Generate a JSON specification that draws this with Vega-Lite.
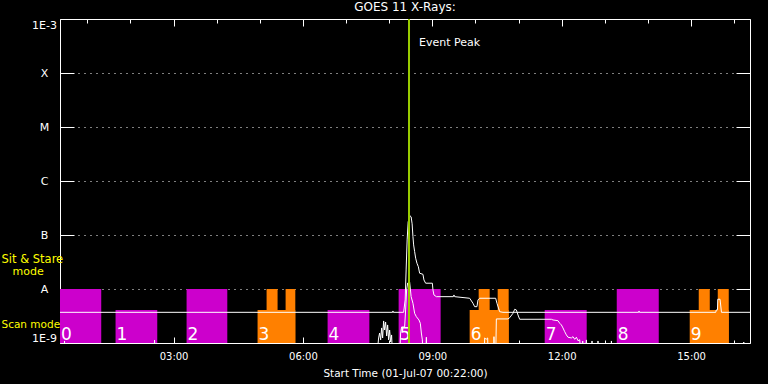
{
  "$schema": "https://vega.github.io/schema/vega-lite/v6.json",
  "width": 690,
  "height": 324,
  "autosize": "none",
  "padding": {"left": 60, "top": 19, "right": 18, "bottom": 41},
  "background": "black",
  "title": {"text": "GOES 11 X-Rays:", "color": "white", "font": "DejaVu Sans", "fontSize": 12, "fontWeight": "normal", "anchor": "middle", "offset": 4},
  "config": {
    "view": {"stroke": null},
    "axis": {"domainColor": "white", "tickColor": "white", "labelColor": "white", "titleColor": "white", "labelFont": "DejaVu Sans", "titleFont": "DejaVu Sans", "titleFontWeight": "normal", "zindex": 1, "domainWidth": 1, "tickWidth": 1, "grid": false}
  },
  "datasets": {
    "blocks": [
      {"n": "0", "t": 0.3667, "t2": 1.323, "v": 1e-8, "kind": "raster"},
      {"n": "1", "t": 1.655, "t2": 2.622, "v": 4.1e-9, "kind": "raster"},
      {"n": "2", "t": 3.302, "t2": 4.246, "v": 1e-8, "kind": "raster"},
      {"n": "3", "t": 4.948, "t2": 5.823, "v": 4.1e-9, "kind": "mixed"},
      {"n": null, "t": 5.157, "t2": 5.412, "v": 1e-8, "kind": "mixed"},
      {"n": null, "t": 5.598, "t2": 5.823, "v": 1e-8, "kind": "mixed"},
      {"n": "4", "t": 6.572, "t2": 7.540, "v": 4.1e-9, "kind": "raster"},
      {"n": "5", "t": 8.219, "t2": 9.193, "v": 1e-8, "kind": "raster"},
      {"n": "6", "t": 9.866, "t2": 10.771, "v": 4.1e-9, "kind": "mixed"},
      {"n": null, "t": 10.075, "t2": 10.330, "v": 1e-8, "kind": "mixed"},
      {"n": null, "t": 10.516, "t2": 10.771, "v": 1e-8, "kind": "mixed"},
      {"n": "7", "t": 11.606, "t2": 12.580, "v": 4.1e-9, "kind": "raster"},
      {"n": "8", "t": 13.277, "t2": 14.251, "v": 1e-8, "kind": "raster"},
      {"n": "9", "t": 14.969, "t2": 15.874, "v": 4.1e-9, "kind": "mixed"},
      {"n": null, "t": 15.178, "t2": 15.434, "v": 1e-8, "kind": "mixed"},
      {"n": null, "t": 15.619, "t2": 15.874, "v": 1e-8, "kind": "mixed"}
    ],
    "long": [
      {"t": 0.3667, "v": 3.7e-9}, {"t": 8.080, "v": 3.7e-9}, {"t": 8.087, "v": 3.92e-9}, {"t": 8.095, "v": 3.7e-9},
      {"t": 8.335, "v": 3.7e-9}, {"t": 8.370, "v": 6.27e-9}, {"t": 8.393, "v": 2.25e-8}, {"t": 8.416, "v": 8.11e-8},
      {"t": 8.440, "v": 1.75e-7}, {"t": 8.486, "v": 2.26e-7}, {"t": 8.509, "v": 2.17e-7}, {"t": 8.532, "v": 1.61e-7},
      {"t": 8.551, "v": 9.33e-8}, {"t": 8.567, "v": 6.55e-8}, {"t": 8.590, "v": 4.92e-8}, {"t": 8.614, "v": 3.72e-8},
      {"t": 8.644, "v": 3.0e-8}, {"t": 8.676, "v": 2.59e-8}, {"t": 8.706, "v": 1.96e-8}, {"t": 8.783, "v": 1.87e-8},
      {"t": 8.806, "v": 1.47e-8}, {"t": 8.845, "v": 1.28e-8}, {"t": 9.001, "v": 1.28e-8}, {"t": 9.015, "v": 9.6e-9},
      {"t": 9.038, "v": 7.76e-9}, {"t": 9.094, "v": 7.21e-9}, {"t": 9.488, "v": 7.21e-9}, {"t": 9.502, "v": 7.76e-9},
      {"t": 9.518, "v": 7.21e-9}, {"t": 9.866, "v": 6.74e-9}, {"t": 9.943, "v": 5.44e-9}, {"t": 9.982, "v": 4.71e-9},
      {"t": 10.035, "v": 4.71e-9}, {"t": 10.059, "v": 6.27e-9}, {"t": 10.098, "v": 6.74e-9}, {"t": 10.469, "v": 6.74e-9},
      {"t": 10.499, "v": 5.44e-9}, {"t": 10.562, "v": 3.8e-9}, {"t": 10.639, "v": 3.7e-9}, {"t": 13.786, "v": 3.7e-9},
      {"t": 13.793, "v": 3.92e-9}, {"t": 13.803, "v": 3.7e-9}, {"t": 15.573, "v": 3.7e-9}, {"t": 15.584, "v": 4.09e-9},
      {"t": 15.612, "v": 4.09e-9}, {"t": 15.619, "v": 6.46e-9}, {"t": 15.672, "v": 6.46e-9}, {"t": 15.705, "v": 3.7e-9},
      {"t": 16.3667, "v": 3.7e-9}
    ],
    "short": [
      {"t": 0.3667, "v": 5e-10}, {"t": 0.460, "v": 5e-10}, {"t": 0.4716, "v": 1.09e-9}, {"t": 0.483, "v": 5e-10},
      {"t": 2.548, "v": 5e-10}, {"t": 2.559, "v": 1.137e-9}, {"t": 2.571, "v": 5e-10},
      {"t": 7.709, "v": 5e-10}, {"t": 7.755, "v": 1.24e-9}, {"t": 7.778, "v": 1.53e-9}, {"t": 7.802, "v": 1.14e-9},
      {"t": 7.825, "v": 1.9e-9}, {"t": 7.848, "v": 1.24e-9}, {"t": 7.871, "v": 2.56e-9}, {"t": 7.894, "v": 1.74e-9},
      {"t": 7.917, "v": 2.45e-9}, {"t": 7.941, "v": 1.35e-9}, {"t": 7.964, "v": 2.16e-9}, {"t": 7.987, "v": 1.14e-9},
      {"t": 8.010, "v": 1.74e-9}, {"t": 8.033, "v": 1.04e-9}, {"t": 8.056, "v": 1.41e-9}, {"t": 8.080, "v": 5e-10},
      {"t": 8.242, "v": 5e-10}, {"t": 8.265, "v": 1.53e-9}, {"t": 8.288, "v": 1.98e-9}, {"t": 8.358, "v": 1.98e-9},
      {"t": 8.381, "v": 4.09e-9}, {"t": 8.404, "v": 9.6e-9}, {"t": 8.428, "v": 1.29e-8}, {"t": 8.474, "v": 1.35e-8},
      {"t": 8.509, "v": 7.21e-9}, {"t": 8.551, "v": 5.44e-9}, {"t": 8.590, "v": 3.55e-9}, {"t": 8.630, "v": 3.07e-9},
      {"t": 8.690, "v": 2.67e-9}, {"t": 8.722, "v": 2.32e-9}, {"t": 8.746, "v": 1.53e-9}, {"t": 8.769, "v": 1.14e-9},
      {"t": 8.790, "v": 5e-10}, {"t": 8.850, "v": 5e-10}, {"t": 8.862, "v": 1.28e-9}, {"t": 8.873, "v": 5e-10},
      {"t": 10.202, "v": 5e-10}, {"t": 10.214, "v": 1.24e-9}, {"t": 10.249, "v": 1.17e-9}, {"t": 10.284, "v": 1.24e-9},
      {"t": 10.295, "v": 5e-10}, {"t": 10.423, "v": 5e-10}, {"t": 10.430, "v": 1.31e-9}, {"t": 10.441, "v": 5e-10},
      {"t": 10.469, "v": 5e-10}, {"t": 10.485, "v": 2.79e-9}, {"t": 10.755, "v": 2.79e-9}, {"t": 10.794, "v": 2.94e-9},
      {"t": 10.871, "v": 3.55e-9}, {"t": 10.910, "v": 4.21e-9}, {"t": 10.949, "v": 4.09e-9}, {"t": 10.987, "v": 3.3e-9},
      {"t": 11.026, "v": 2.75e-9}, {"t": 11.761, "v": 2.75e-9}, {"t": 11.798, "v": 2.67e-9}, {"t": 11.914, "v": 2.59e-9},
      {"t": 11.954, "v": 2.32e-9}, {"t": 11.993, "v": 2.16e-9}, {"t": 12.030, "v": 1.9e-9}, {"t": 12.070, "v": 1.62e-9},
      {"t": 12.109, "v": 1.41e-9}, {"t": 12.146, "v": 1.28e-9}, {"t": 12.225, "v": 1.24e-9}, {"t": 12.262, "v": 1.31e-9},
      {"t": 12.302, "v": 1.17e-9}, {"t": 12.341, "v": 1.28e-9}, {"t": 12.378, "v": 1.1e-9}, {"t": 12.418, "v": 1.15e-9},
      {"t": 12.457, "v": 5e-10}, {"t": 12.487, "v": 1.09e-9}, {"t": 12.530, "v": 5e-10}, {"t": 12.573, "v": 1.14e-9},
      {"t": 12.603, "v": 5e-10}, {"t": 12.696, "v": 5e-10}, {"t": 12.703, "v": 1.09e-9}, {"t": 12.710, "v": 5e-10},
      {"t": 12.835, "v": 5e-10}, {"t": 12.842, "v": 1.09e-9}, {"t": 12.849, "v": 5e-10},
      {"t": 13.149, "v": 5e-10}, {"t": 13.153, "v": 1.09e-9}, {"t": 13.160, "v": 5e-10},
      {"t": 16.210, "v": 5e-10}, {"t": 16.222, "v": 1.04e-9}, {"t": 16.233, "v": 5e-10}, {"t": 16.3667, "v": 5e-10}
    ]
  },
  "layer": [
    {
      "data": {"name": "blocks"},
      "mark": {"type": "rect"},
      "encoding": {
        "x": {"field": "t", "type": "quantitative", "scale": {"domain": [0.3667, 16.3667], "nice": false, "zero": false},
          "axis": {"orient": "bottom", "values": [1,2,3,4,5,6,7,8,9,10,11,12,13,14,15,16],
            "tickSize": {"condition": {"test": "datum.value % 3 === 0", "value": -6}, "value": -3},
            "labelExpr": "datum.value % 3 === 0 ? (datum.value < 10 ? '0' : '') + datum.value + ':00' : ''",
            "labelFontSize": 10, "labelPadding": 14, "labelOverlap": false,
            "title": "Start Time (01-Jul-07 00:22:00)", "titleFontSize": 10.5, "titlePadding": 4}},
        "x2": {"field": "t2"},
        "y": {"field": "v", "type": "quantitative", "scale": {"type": "log", "domain": [1e-9, 1e-3], "nice": false},
          "axis": {"orient": "left", "values": [1e-9, 1e-8, 1e-7, 1e-6, 1e-5, 1e-4, 1e-3],
            "labelExpr": "datum.value < 5e-9 ? '1E-9' : datum.value < 5e-8 ? 'A' : datum.value < 5e-7 ? 'B' : datum.value < 5e-6 ? 'C' : datum.value < 5e-5 ? 'M' : datum.value < 5e-4 ? 'X' : '1E-3'",
            "tickSize": -14, "labelAlign": "center", "labelPadding": 30, "labelFlush": true, "labelFontSize": 11,
            "grid": true, "gridColor": "white", "gridDash": [1, 5], "gridWidth": 1, "title": null}},
        "y2": {"datum": 1e-9},
        "color": {"field": "kind", "type": "nominal", "scale": {"domain": ["raster", "mixed"], "range": ["#cc00cc", "#ff8000"]}, "legend": null}
      }
    },
    {
      "data": {"name": "blocks"},
      "transform": [{"filter": "isValid(datum.n)"}],
      "mark": {"type": "text", "align": "left", "baseline": "alphabetic", "dx": 1, "dy": -3, "fontSize": 17, "font": "DejaVu Sans", "color": "white"},
      "encoding": {
        "x": {"field": "t", "type": "quantitative", "scale": {"domain": [0.3667, 16.3667], "nice": false, "zero": false}, "axis": null},
        "y": {"datum": 1e-9, "type": "quantitative", "scale": {"type": "log", "domain": [1e-9, 1e-3], "nice": false}, "axis": null},
        "text": {"field": "n"}
      }
    },
    {
      "data": {"name": "long"},
      "mark": {"type": "line", "color": "white", "strokeWidth": 1, "clip": true},
      "encoding": {
        "x": {"field": "t", "type": "quantitative", "scale": {"domain": [0.3667, 16.3667], "nice": false, "zero": false},
          "axis": {"orient": "top", "values": [1,2,3,4,5,6,7,8,9,10,11,12,13,14,15,16],
            "tickSize": {"condition": {"test": "datum.value % 3 === 0", "value": -7}, "value": -4},
            "labels": false, "title": null}},
        "y": {"field": "v", "type": "quantitative", "scale": {"type": "log", "domain": [1e-9, 1e-3], "nice": false},
          "axis": {"orient": "right", "values": [1e-9, 1e-8, 1e-7, 1e-6, 1e-5, 1e-4, 1e-3], "tickSize": -14, "labels": false, "title": null, "grid": false}}
      }
    },
    {
      "data": {"name": "short"},
      "mark": {"type": "line", "color": "white", "strokeWidth": 1, "clip": true},
      "encoding": {
        "x": {"field": "t", "type": "quantitative", "scale": {"domain": [0.3667, 16.3667], "nice": false, "zero": false}, "axis": null},
        "y": {"field": "v", "type": "quantitative", "scale": {"type": "log", "domain": [1e-9, 1e-3], "nice": false}, "axis": null}
      }
    },
    {
      "data": {"values": [{"event": "peak"}]},
      "mark": {"type": "rule", "color": "#99cc00", "strokeWidth": 2},
      "encoding": {
        "x": {"datum": 8.4596, "type": "quantitative", "scale": {"domain": [0.3667, 16.3667], "nice": false, "zero": false}, "axis": null}
      }
    },
    {
      "data": {"values": [{"event": "peak"}]},
      "mark": {"type": "text", "text": "Event Peak", "align": "left", "baseline": "alphabetic", "dx": 10, "fontSize": 11, "font": "DejaVu Sans", "color": "white"},
      "encoding": {
        "x": {"datum": 8.4596, "type": "quantitative", "scale": {"domain": [0.3667, 16.3667], "nice": false, "zero": false}, "axis": null},
        "y": {"datum": 3.1e-4, "type": "quantitative", "scale": {"type": "log", "domain": [1e-9, 1e-3], "nice": false}, "axis": null}
      }
    },
    {
      "data": {"values": [{"note": "stare"}]},
      "mark": {"type": "text", "text": "Sit & Stare", "align": "left", "baseline": "alphabetic", "dx": -58.5, "fontSize": 11.5, "font": "DejaVu Sans", "color": "#ffff00"},
      "encoding": {
        "x": {"datum": 0.3667, "type": "quantitative", "scale": {"domain": [0.3667, 16.3667], "nice": false, "zero": false}, "axis": null},
        "y": {"datum": 3.0e-8, "type": "quantitative", "scale": {"type": "log", "domain": [1e-9, 1e-3], "nice": false}, "axis": null}
      }
    },
    {
      "data": {"values": [{"note": "stare"}]},
      "mark": {"type": "text", "text": "mode", "align": "left", "baseline": "alphabetic", "dx": -47.5, "fontSize": 11, "font": "DejaVu Sans", "color": "#ffff00"},
      "encoding": {
        "x": {"datum": 0.3667, "type": "quantitative", "scale": {"domain": [0.3667, 16.3667], "nice": false, "zero": false}, "axis": null},
        "y": {"datum": 1.82e-8, "type": "quantitative", "scale": {"type": "log", "domain": [1e-9, 1e-3], "nice": false}, "axis": null}
      }
    },
    {
      "data": {"values": [{"note": "scan"}]},
      "mark": {"type": "text", "text": "Scan mode", "align": "left", "baseline": "alphabetic", "dx": -58.5, "fontSize": 10.5, "font": "DejaVu Sans", "color": "#ffff00"},
      "encoding": {
        "x": {"datum": 0.3667, "type": "quantitative", "scale": {"domain": [0.3667, 16.3667], "nice": false, "zero": false}, "axis": null},
        "y": {"datum": 1.87e-9, "type": "quantitative", "scale": {"type": "log", "domain": [1e-9, 1e-3], "nice": false}, "axis": null}
      }
    }
  ],
  "resolve": {"axis": {"x": "independent", "y": "independent"}}
}
